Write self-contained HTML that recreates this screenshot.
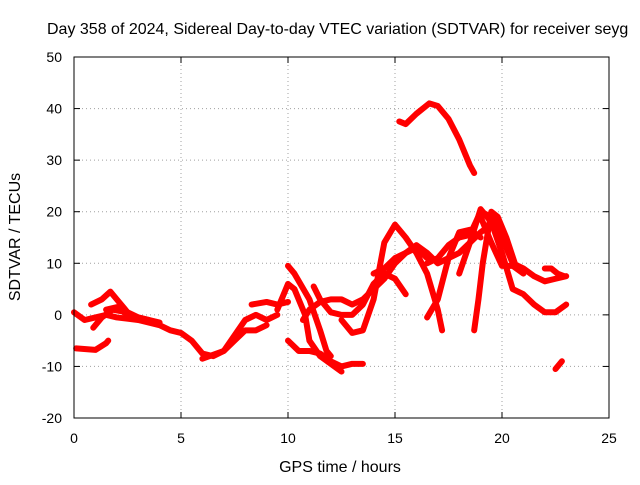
<!DOCTYPE html>
<html><head><meta charset="utf-8"><style>
body{margin:0;background:#fff;}
svg text{font-family:"Liberation Sans",sans-serif;font-size:14px;fill:#000;}
svg text.big{font-size:16px;}
</style></head><body>
<svg width="640" height="480" id="chart">
<text class="big" x="47" y="34">Day 358 of 2024, Sidereal Day-to-day VTEC variation (SDTVAR) for receiver seyg</text>
<text class="big" x="340" y="472" text-anchor="middle">GPS time / hours</text>
<text class="big" transform="translate(20,237) rotate(-90)" text-anchor="middle">SDTVAR / TECUs</text>
<g id="grid"></g>
<g id="ticks"></g>
<g id="series"></g>
<rect x="74" y="57" width="535" height="361" fill="none" stroke="#000" stroke-width="1"/>
</svg>
<script>
const xTicks=[0,5,10,15,20,25];
const yTicks=[-20,-10,0,10,20,30,40,50];
const tracks=[
[[15.2,37.5],[15.5,37],[16,39],[16.6,41],[17,40.5],[17.5,38],[18,34],[18.5,29],[18.7,27.5]],
[[0,0.5],[0.5,-1],[1,-0.5],[1.5,0],[2,-0.5],[3,-1],[4,-2],[4.5,-3],[5,-3.5],[5.5,-5],[6,-7.5],[6.5,-8],[7,-7],[7.5,-5],[8,-3],[8.5,-3],[9,-2]],
[[0.1,-6.5],[1,-6.8],[1.5,-5.5],[1.6,-5]],
[[0.8,2],[1.3,3],[1.7,4.5],[2,3],[2.5,0.5],[3,-0.5],[3.5,-1]],
[[0.9,-2.5],[1.3,-0.5],[1.8,1],[2.5,0.5],[3,-0.5],[4,-1.5]],
[[1.5,1],[2,1.5],[2.5,0]],
[[6,-8.5],[7,-7],[7.5,-4],[8,-1],[8.5,0],[9,-1],[9.5,0]],
[[8.3,2],[9,2.5],[9.5,2],[10,2.5]],
[[9.5,1],[10,6],[10.3,5],[10.8,0],[11,-5],[11.5,-8],[12,-9.5],[12.5,-11]],
[[10,9.5],[10.3,8],[11,3],[11.5,-3],[11.8,-7],[12,-8]],
[[10,-5],[10.5,-7],[11,-7],[11.5,-7.5],[12,-9],[12.5,-10],[13,-9.5],[13.5,-9.5]],
[[11.2,5.5],[11.5,3],[12,0.5],[12.5,0],[13,0],[13.5,2],[14,6],[14.5,8],[15,7],[15.5,4]],
[[10.7,-1],[11,1],[11.5,2.5],[12,3],[12.5,3],[13,2],[13.5,3],[14,5],[14.5,7],[15,10],[15.5,12],[16,13],[16.5,11]],
[[12.5,-1],[13,-3.5],[13.5,-3],[14,3],[14.5,14],[15,17.5],[15.5,15],[16,12],[16.5,8],[17,1],[17.2,-3]],
[[14,8],[14.5,9],[15,11],[15.5,12],[16,13.5],[16.5,12],[17,10],[17.5,11],[18,12],[18.5,14],[19,16],[19.5,17.5]],
[[16.5,-0.5],[17,3],[17.5,11],[18,16],[18.5,16.5],[19,15]],
[[16.5,10],[17,11],[17.5,13.5],[18,15],[18.5,15.5],[19,20],[19.5,19],[20,15],[20.5,10],[21,9],[21.5,7.5],[22,6.5],[22.5,7],[23,7.5]],
[[18,8],[18.5,14],[19,20.5],[19.5,18],[20,12],[20.5,5],[21,4],[21.5,2],[22,0.5],[22.5,0.5],[23,2]],
[[18.7,-3],[18.9,3],[19.1,10],[19.3,15],[19.5,20],[19.8,19],[20.2,15],[20.6,10]],
[[19,19],[19.5,14],[20,9.5],[20.5,9.5],[21,8]],
[[22,9],[22.3,9],[22.6,8],[22.9,7.5]],
[[22.5,-10.5],[22.8,-9]]
];
const X0=74,X1=609,Y0=418,Y1=57,xmin=0,xmax=25,ymin=-20,ymax=50;
function sx(v){return X0+(v-xmin)/(xmax-xmin)*(X1-X0);}
function sy(v){return Y0-(v-ymin)/(ymax-ymin)*(Y0-Y1);}
const NS='http://www.w3.org/2000/svg';
const grid=document.getElementById('grid'),ticks=document.getElementById('ticks'),ser=document.getElementById('series'),svg=document.getElementById('chart');
function mk(tag,attrs,parent){const e=document.createElementNS(NS,tag);for(const k in attrs)e.setAttribute(k,attrs[k]);parent.appendChild(e);return e;}
xTicks.forEach(t=>{const x=sx(t);
 if(t>xmin&&t<xmax){const g=mk('line',{x1:x,x2:x,y1:Y1,y2:Y0,stroke:'#a0a0a0','stroke-dasharray':'1,3'},grid);}
 const a=mk('line',{x1:x,x2:x,y1:Y0,y2:Y0-6,stroke:'#000'},ticks);
 const b=mk('line',{x1:x,x2:x,y1:Y1,y2:Y1+6,stroke:'#000'},ticks);
 const l=mk('text',{x:x,y:443,'text-anchor':'middle'},svg);l.textContent=t;
});
yTicks.forEach(t=>{const y=sy(t);
 if(t>ymin&&t<ymax){const g=mk('line',{x1:X0,x2:X1,y1:y,y2:y,stroke:'#a0a0a0','stroke-dasharray':'1,3'},grid);}
 const a=mk('line',{x1:X0,x2:X0+6,y1:y,y2:y,stroke:'#000'},ticks);
 const b=mk('line',{x1:X1,x2:X1-6,y1:y,y2:y,stroke:'#000'},ticks);
 const l=mk('text',{x:62,y:y+5,'text-anchor':'end'},svg);l.textContent=t;
});
tracks.forEach(tr=>{
 const p=mk('polyline',{points:tr.map(d=>sx(d[0])+','+sy(d[1])).join(' '),fill:'none',stroke:'#f00','stroke-width':6,'stroke-linejoin':'round','stroke-linecap':'round'},ser);
 
 
});
</script>
</body></html>
